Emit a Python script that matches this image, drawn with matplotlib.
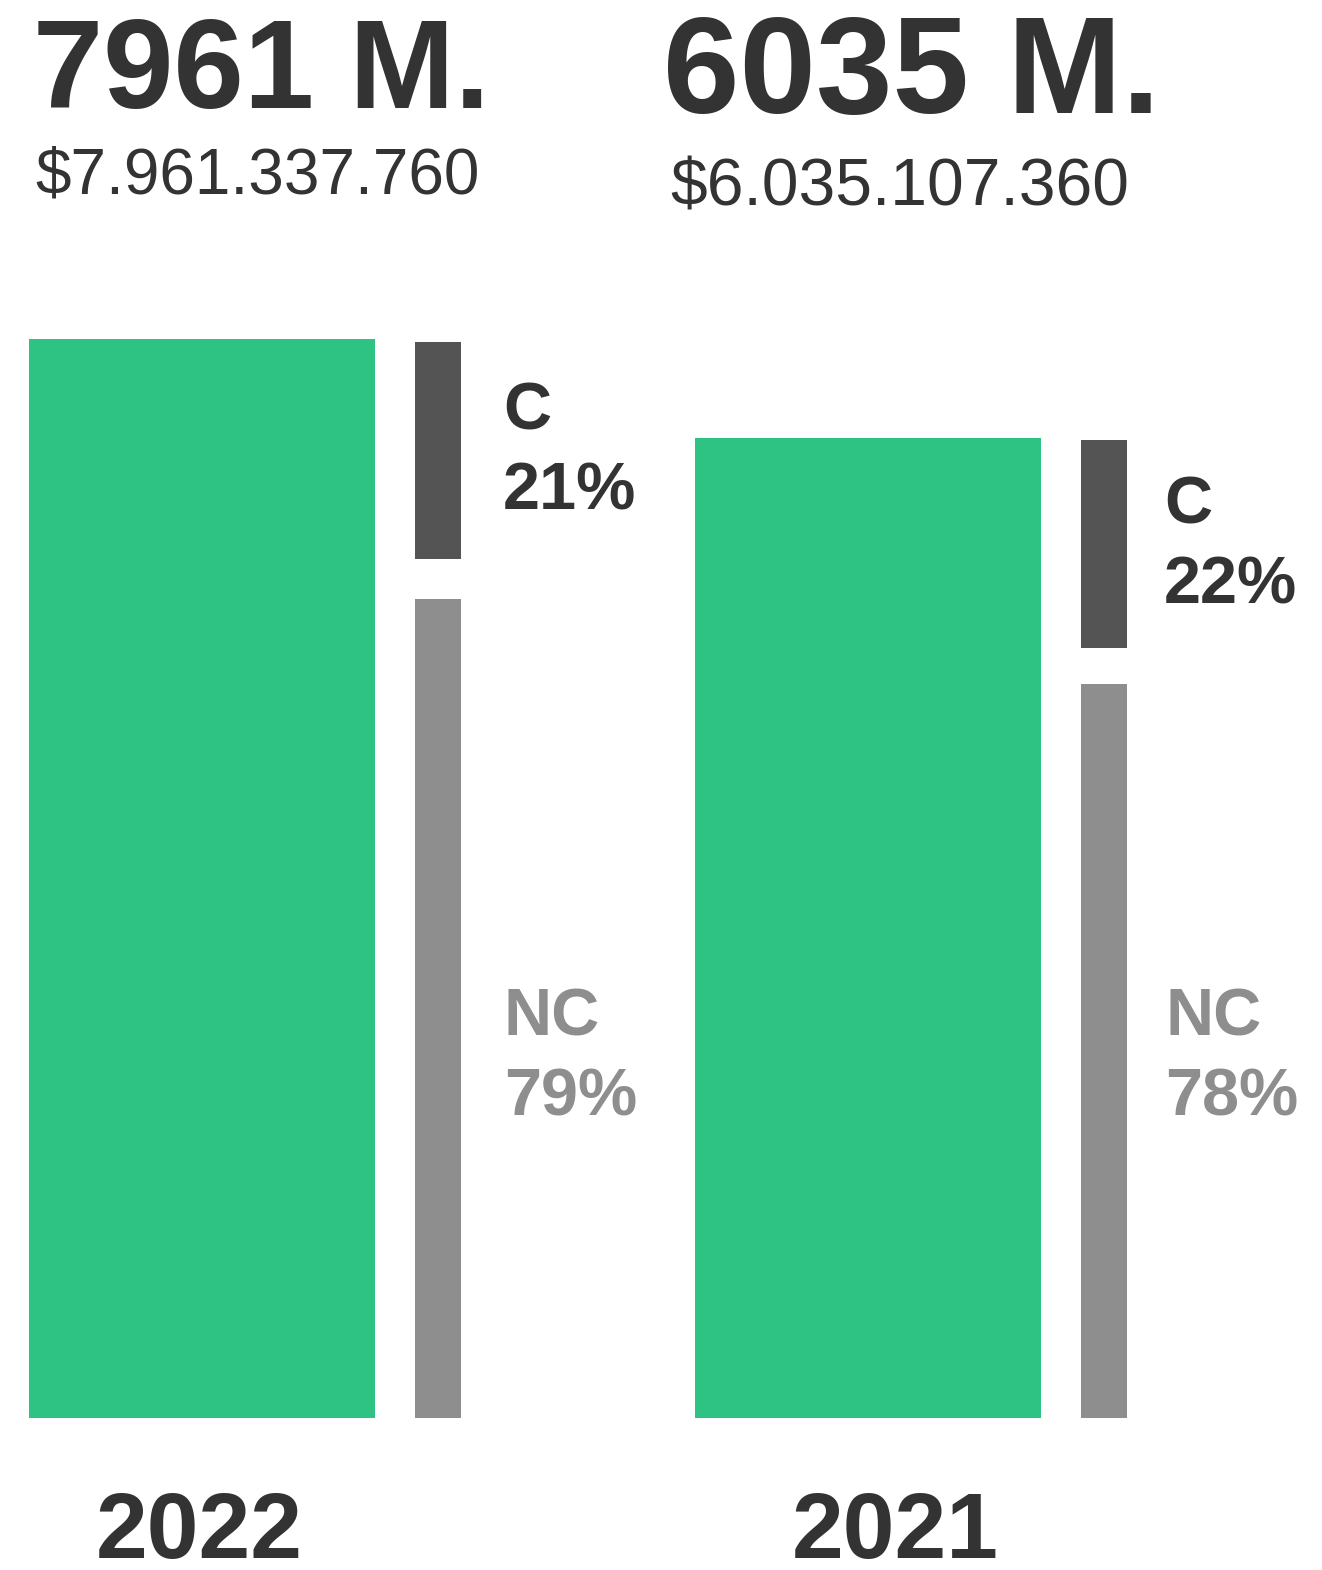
import matplotlib
matplotlib.use("Agg")
import matplotlib.pyplot as plt
import numpy as np

# ---- data ----
years = ["2022", "2021"]
totals_m = [7961, 6035]
totals_label = ["7961 M.", "6035 M."]
totals_full = ["$7.961.337.760", "$6.035.107.360"]
share_c = [21, 22]
share_nc = [79, 78]

# ---- style ----
W, H = 1322, 1570
DPI = 100
GREEN = "#2ec383"
DARK = "#333333"
C_COL = "#545454"
NC_COL = "#8e8e8e"
FONT = "Liberation Sans"

fig = plt.figure(figsize=(W / DPI, H / DPI), dpi=DPI)
fig.patch.set_facecolor("white")

base_px = 152  # baseline of bars, from bottom
ax = fig.add_axes([0, base_px / H, 1, (H - base_px) / H])
ax.set_axis_off()

# value scale (axis floor below zero, as in the original layout)
y_floor, y_top = -13035, 14558
ax.set_ylim(y_floor, y_top)
unit_px = 666.0
ax.set_xlim(-202 / unit_px, (W - 202) / unit_px)

x = np.arange(len(years))
green_w = 346 / unit_px
side_off = 236 / unit_px
side_w = 46 / unit_px
gap_frac = 0.037
top_trim = 0.0025

tot = np.array(totals_m, dtype=float)
ax.bar(x, tot - y_floor, bottom=y_floor, width=green_w, color=GREEN, linewidth=0)

span = (tot - y_floor) * (1 - top_trim)
stack_len = span * (1 - gap_frac)
nc_len = stack_len * np.array(share_nc) / 100.0
c_len = stack_len * np.array(share_c) / 100.0
gap_len = span * gap_frac
ax.bar(x + side_off, nc_len, bottom=y_floor, width=side_w, color=NC_COL, linewidth=0)
ax.bar(x + side_off, c_len, bottom=y_floor + nc_len + gap_len, width=side_w,
       color=C_COL, linewidth=0)

def ftext(px, py, s, size, color=DARK, weight="bold", ha="left"):
    fig.text(px / W, 1 - py / H, s, fontsize=size, color=color, fontweight=weight,
             family=FONT, ha=ha, va="baseline")

# headline totals
big_pos = [(33, 108, 91), (663, 113, 99)]
sub_pos = [(35, 193, 46), (670, 205, 47.5)]
for i in range(len(years)):
    bx, by, bs = big_pos[i]
    ftext(bx, by, totals_label[i], bs)
    sx, sy, ss = sub_pos[i]
    ftext(sx, sy, totals_full[i], ss, weight="normal")

# share labels
c_pos = [(503, 430, 510), (1164, 523, 604)]
nc_pos = [(504, 1035, 1115), (1165, 1035, 1115)]
for i in range(len(years)):
    cx, cy1, cy2 = c_pos[i]
    ftext(cx, cy1, "C", 48)
    ftext(cx, cy2, f"{share_c[i]}%", 48)
    nx, ny1, ny2 = nc_pos[i]
    ftext(nx, ny1, "NC", 48, color=NC_COL)
    ftext(nx, ny2, f"{share_nc[i]}%", 48, color=NC_COL)

# year labels
year_cx = [199, 895]
for i, yv in enumerate(years):
    ftext(year_cx[i], 1558, yv, 67, ha="center")

fig.savefig("out.png", dpi=DPI, facecolor="white")
